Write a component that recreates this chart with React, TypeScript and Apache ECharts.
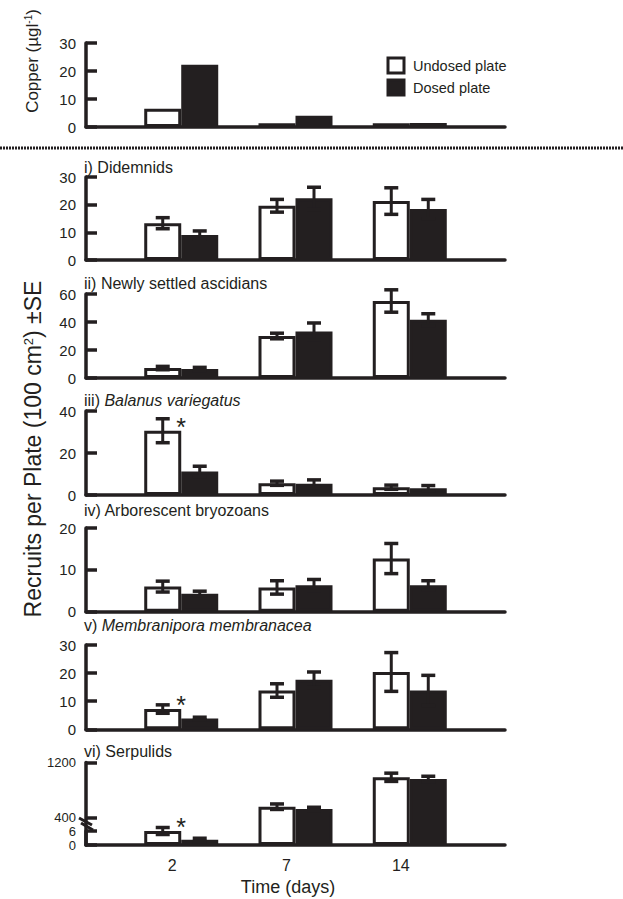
import React, { useEffect, useRef } from 'react';
import * as echarts from 'echarts';

// ---------- data ----------
const days = ['2', '7', '14'];

const copperUndosed = [6.5, 1.3, 1.3];
const copperDosed = [22.2, 4.0, 1.4];

const didemnidsUndosed = [13.3, 19.6, 21.3];
const didemnidsUndosedSE = [2.0, 2.3, 4.8];
const didemnidsDosed = [9.0, 22.3, 18.4];
const didemnidsDosedSE = [1.5, 4.0, 3.5];

const ascidiansUndosed = [7.1, 30.0, 55.0];
const ascidiansUndosedSE = [1.2, 2.0, 8.0];
const ascidiansDosed = [6.4, 33.3, 41.6];
const ascidiansDosedSE = [1.2, 6.0, 4.3];

const balanusUndosed = [30.6, 5.6, 3.7];
const balanusUndosedSE = [5.7, 1.0, 1.0];
const balanusDosed = [11.2, 5.4, 3.2];
const balanusDosedSE = [2.5, 1.8, 1.3];

const bryozoansUndosed = [6.0, 5.8, 12.7];
const bryozoansUndosedSE = [1.3, 1.6, 3.6];
const bryozoansDosed = [4.3, 6.3, 6.3];
const bryozoansDosedSE = [0.6, 1.4, 1.1];

const membraniporaUndosed = [7.2, 13.8, 20.4];
const membraniporaUndosedSE = [1.5, 2.4, 6.9];
const membraniporaDosed = [3.8, 17.6, 13.8];
const membraniporaDosedSE = [0.5, 2.8, 5.4];

// day 2 serpulids are read on the 0–6 inset scale, days 7 and 14 on the 0–1200 scale
const serpulidsUndosed = [6.0, 557, 985];
const serpulidsUndosedSE = [1.5, 40, 60];
const serpulidsDosed = [2.2, 524, 960];
const serpulidsDosedSE = [0.7, 25, 40];
const serpulidsInsetDays = [0];

const balanusSignificant = [0];
const membraniporaSignificant = [0];
const serpulidsSignificant = [0];

const serpulidsMainTicks = [400, 1200];
const serpulidsInsetTicks = [0, 6];

// ---------- style ----------
const INK = '#231f20';
const FONT = "'Liberation Sans', Arial, Helvetica, sans-serif";
const BAR_W = 37;
const X_MIN = -5 / 6;
const X_MAX = 17 / 6;
const GRID_LEFT = 86;
const GRID_WIDTH = 419;
const AXIS_W = 3.5;

type Panel = {
  top: number;
  height: number;
  max: number;
  interval: number;
  u: number[];
  d: number[];
  ue?: number[];
  de?: number[];
  sig?: number[];
  days: number[];
  tickValues?: number[];
  hideXAxis?: boolean;
  showXLabels?: boolean;
  labelSize?: number;
};

const allDays = [0, 1, 2];
const mainSerpDays = allDays.filter((i) => !serpulidsInsetDays.includes(i));

const panels: Panel[] = [
  { top: 43, height: 84, max: 30, interval: 10, u: copperUndosed, d: copperDosed, days: allDays },
  { top: 177, height: 83, max: 30, interval: 10, u: didemnidsUndosed, d: didemnidsDosed, ue: didemnidsUndosedSE, de: didemnidsDosedSE, days: allDays },
  { top: 294, height: 84, max: 60, interval: 20, u: ascidiansUndosed, d: ascidiansDosed, ue: ascidiansUndosedSE, de: ascidiansDosedSE, days: allDays },
  { top: 411, height: 84, max: 40, interval: 20, u: balanusUndosed, d: balanusDosed, ue: balanusUndosedSE, de: balanusDosedSE, sig: balanusSignificant, days: allDays },
  { top: 528, height: 83.7, max: 20, interval: 10, u: bryozoansUndosed, d: bryozoansDosed, ue: bryozoansUndosedSE, de: bryozoansDosedSE, days: allDays },
  { top: 645, height: 84.3, max: 30, interval: 10, u: membraniporaUndosed, d: membraniporaDosed, ue: membraniporaUndosedSE, de: membraniporaDosedSE, sig: membraniporaSignificant, days: allDays },
  { top: 762.5, height: 82.5, max: 1200, interval: 400, u: serpulidsUndosed, d: serpulidsDosed, ue: serpulidsUndosedSE, de: serpulidsDosedSE, days: mainSerpDays, tickValues: serpulidsMainTicks, showXLabels: true, labelSize: 13 },
  { top: 831, height: 14, max: 6, interval: 6, u: serpulidsUndosed, d: serpulidsDosed, ue: serpulidsUndosedSE, de: serpulidsDosedSE, sig: serpulidsSignificant, days: serpulidsInsetDays, tickValues: serpulidsInsetTicks, hideXAxis: true, labelSize: 13 },
];

const panelTitles = [
  { y: 167, text: 'i) Didemnids' },
  { y: 283, text: 'ii) Newly settled ascidians' },
  { y: 400, text: 'iii) {it|Balanus variegatus}' },
  { y: 510, text: 'iv) Arborescent bryozoans' },
  { y: 625, text: 'v) {it|Membranipora membranacea}' },
  { y: 751, text: 'vi) Serpulids' },
];

function buildOption() {
  const grid: any[] = [];
  const xAxis: any[] = [];
  const yAxis: any[] = [];
  const series: any[] = [];

  panels.forEach((p, g) => {
    grid.push({ left: GRID_LEFT, width: GRID_WIDTH, top: p.top, height: p.height });
    xAxis.push({
      gridIndex: g,
      type: 'value',
      min: X_MIN,
      max: X_MAX,
      axisLine: { show: !p.hideXAxis, onZero: false, lineStyle: { color: INK, width: AXIS_W } },
      axisTick: { show: false },
      splitLine: { show: false },
      axisLabel: p.showXLabels
        ? {
            show: true,
            customValues: [0, 1, 2],
            formatter: (v: number) => days[Math.round(v)],
            color: INK,
            fontSize: 16,
            fontFamily: FONT,
            margin: 12,
            padding: [0, 18, 0, 0],
          }
        : { show: false },
    });
    const tickExtra = p.tickValues ? { customValues: p.tickValues } : {};
    yAxis.push({
      gridIndex: g,
      type: 'value',
      min: 0,
      max: p.max,
      interval: p.interval,
      axisLine: { show: true, onZero: false, lineStyle: { color: INK, width: AXIS_W } },
      axisTick: { show: true, inside: true, length: 11, lineStyle: { color: INK, width: AXIS_W }, ...tickExtra },
      axisLabel: {
        color: INK,
        fontSize: p.labelSize || 15,
        fontFamily: FONT,
        margin: 10,
        hideOverlap: false,
        showMinLabel: true,
        showMaxLabel: true,
        lineHeight: p.labelSize || 15,
        formatter: (v: number) => String(v),
        ...tickExtra,
      },
      splitLine: { show: false },
    });

    series.push({
      type: 'bar',
      name: 'Undosed plate',
      xAxisIndex: g,
      yAxisIndex: g,
      barWidth: BAR_W,
      barGap: '0%',
      data: p.days.map((i) => [i, p.u[i]]),
      itemStyle: { color: '#ffffff', borderColor: INK, borderWidth: 3 },
      z: 2,
    });
    series.push({
      type: 'bar',
      name: 'Dosed plate',
      xAxisIndex: g,
      yAxisIndex: g,
      barWidth: BAR_W,
      barGap: '0%',
      data: p.days.map((i) => [i, p.d[i]]),
      itemStyle: { color: INK, borderColor: INK, borderWidth: 3 },
      z: 2,
    });

    if (p.ue && p.de) {
      const ebData = [
        ...p.days.map((i) => [i, p.u[i], p.ue![i], 0]),
        ...p.days.map((i) => [i, p.d[i], p.de![i], 1]),
      ];
      series.push({
        type: 'custom',
        xAxisIndex: g,
        yAxisIndex: g,
        z: 5,
        clip: false,
        silent: true,
        encode: { x: 0, y: 1 },
        data: ebData,
        renderItem: (params: any, api: any) => {
          const x = api.value(0);
          const v = api.value(1);
          const e = api.value(2);
          const s = api.value(3);
          const off = (s === 0 ? -1 : 1) * (BAR_W / 2);
          const top = api.coord([x, v + e]);
          const bot = api.coord([x, v - e]);
          const cx = top[0] + off;
          const style = { stroke: INK, lineWidth: 3 };
          const capStyle = { stroke: INK, lineWidth: 3.5 };
          const cap = 7;
          return {
            type: 'group',
            children: [
              { type: 'line', shape: { x1: cx, y1: top[1], x2: cx, y2: bot[1] }, style },
              { type: 'line', shape: { x1: cx - cap, y1: top[1], x2: cx + cap, y2: top[1] }, style: capStyle },
              { type: 'line', shape: { x1: cx - cap, y1: bot[1], x2: cx + cap, y2: bot[1] }, style: capStyle },
            ],
          };
        },
      });
    }

    if (p.sig && p.sig.length) {
      series.push({
        type: 'custom',
        xAxisIndex: g,
        yAxisIndex: g,
        z: 6,
        clip: false,
        silent: true,
        encode: { x: 0, y: 1 },
        data: p.sig.map((i) => [i, p.u[i]]),
        renderItem: (params: any, api: any) => {
          const pt = api.coord([api.value(0), api.value(1)]);
          return {
            type: 'text',
            x: pt[0],
            y: pt[1] - 4,
            style: {
              text: '*',
              fill: INK,
              fontSize: 25,
              fontFamily: FONT,
              textAlign: 'center',
              textVerticalAlign: 'middle',
            },
          };
        },
      });
    }
  });

  const graphic: any[] = [
    {
      type: 'line',
      shape: { x1: 0, y1: 148, x2: 623, y2: 148 },
      style: { stroke: INK, lineWidth: 3, lineDash: [2, 1] },
    },
    {
      type: 'text',
      x: 32,
      y: 61,
      rotation: Math.PI / 2,
      style: {
        text: 'Copper (µgl{sup|-1})',
        fill: INK,
        fontSize: 17,
        fontFamily: FONT,
        textAlign: 'center',
        textVerticalAlign: 'middle',
        rich: { sup: { fontSize: 10, fontFamily: FONT, fill: INK, verticalAlign: 'top' } },
      },
    },
    {
      type: 'text',
      x: 33,
      y: 449,
      rotation: Math.PI / 2,
      style: {
        text: 'Recruits per Plate (100 cm{sup|2}) ±SE',
        fill: INK,
        fontSize: 23,
        fontFamily: FONT,
        textAlign: 'center',
        textVerticalAlign: 'middle',
        rich: { sup: { fontSize: 13, fontFamily: FONT, fill: INK, verticalAlign: 'top' } },
      },
    },
    {
      type: 'text',
      x: 288,
      y: 887,
      style: {
        text: 'Time (days)',
        fill: INK,
        fontSize: 18,
        fontFamily: FONT,
        textAlign: 'center',
        textVerticalAlign: 'middle',
      },
    },
    // axis break marks
    { type: 'line', shape: { x1: 79, y1: 818, x2: 92, y2: 825 }, style: { stroke: INK, lineWidth: 3 } },
    { type: 'line', shape: { x1: 81, y1: 823, x2: 93, y2: 830 }, style: { stroke: INK, lineWidth: 3 } },
    ...panelTitles.map((t) => ({
      type: 'text',
      x: 84,
      y: t.y,
      style: {
        text: t.text,
        fill: INK,
        fontSize: 16,
        fontFamily: FONT,
        textAlign: 'left',
        textVerticalAlign: 'middle',
        rich: { it: { fontStyle: 'italic', fontSize: 16, fontFamily: FONT, fill: INK } },
      },
    })),
  ];

  return {
    animation: false,
    backgroundColor: '#ffffff',
    grid,
    xAxis,
    yAxis,
    series,
    graphic,
    legend: {
      data: [
        { name: 'Undosed plate', itemStyle: { color: '#ffffff', borderColor: INK, borderWidth: 3 } },
        { name: 'Dosed plate', itemStyle: { color: INK, borderColor: INK, borderWidth: 3 } },
      ],
      orient: 'vertical',
      left: 381.5,
      top: 51.5,
      icon: 'rect',
      itemWidth: 16,
      itemHeight: 15,
      itemGap: 4,
      selectedMode: false,
      textStyle: { fontSize: 14.5, color: INK, fontFamily: FONT, padding: [0, 0, 0, 4] },
    },
  };
}

export default function App() {
  const ref = useRef<HTMLDivElement>(null);
  useEffect(() => {
    if (!ref.current) return;
    const chart = echarts.init(ref.current, null, { renderer: 'svg' });
    chart.setOption(buildOption() as any);
    return () => chart.dispose();
  }, []);
  return (
    <div
      ref={ref}
      style={{ position: 'absolute', left: 0, top: 0, width: 623, height: 899, background: '#fff' }}
    />
  );
}
